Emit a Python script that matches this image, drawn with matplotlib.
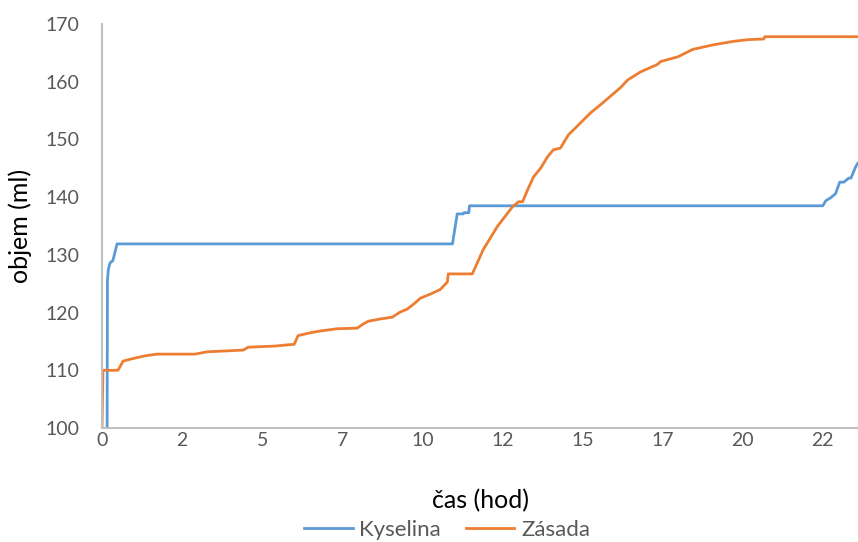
import matplotlib
matplotlib.use("Agg")
import matplotlib.pyplot as plt
from matplotlib.ticker import FuncFormatter, MultipleLocator

plt.rcParams['font.family'] = ['Lato', 'DejaVu Sans']

# Kyselina (acid) - time (h) and volume (ml)
kys_t = [0.16, 0.17, 0.20, 0.25, 0.34, 0.47, 10.94, 11.09, 11.28, 11.30, 11.45, 11.47,
         22.5, 22.6, 22.75, 22.9, 23.03, 23.16, 23.31, 23.38, 23.53, 23.6]
kys_v = [100.0, 125.7, 127.5, 128.6, 129.0, 131.9, 131.9, 137.1, 137.1, 137.3, 137.3, 138.5,
         138.5, 139.4, 139.9, 140.6, 142.6, 142.6, 143.3, 143.3, 145.3, 145.9]

# Zásada (base) - time (h) and volume (ml)
zas_t = [0.0, 0.03, 0.5, 0.66, 0.94, 1.34, 1.72, 2.9, 3.28, 4.41, 4.56, 5.41, 5.78,
         6.0, 6.12, 6.5, 6.81, 7.34, 7.97, 8.12, 8.31, 8.69, 9.06, 9.31, 9.53, 9.78,
         9.94, 10.25, 10.56, 10.78, 10.81, 11.56, 11.9, 12.34, 12.81, 13.0, 13.13,
         13.28, 13.47, 13.69, 13.91, 14.09, 14.31, 14.56, 14.78, 15.25, 15.56, 16.19,
         16.41, 16.81, 17.34, 17.44, 17.97, 18.44, 19.09, 19.72, 20.19, 20.66, 20.69,
         23.6]
zas_v = [100.0, 110.0, 110.0, 111.6, 112.0, 112.5, 112.8, 112.8, 113.2, 113.5, 114.0,
         114.2, 114.4, 114.5, 116.0, 116.5, 116.8, 117.2, 117.3, 117.9, 118.5, 118.9,
         119.2, 120.1, 120.6, 121.7, 122.5, 123.2, 124.0, 125.3, 126.7, 126.7, 130.9,
         134.9, 138.3, 139.2, 139.2, 141.2, 143.5, 145.0, 147.0, 148.2, 148.5, 150.8,
         152.0, 154.6, 156.0, 159.0, 160.3, 161.7, 163.0, 163.5, 164.3, 165.6, 166.4,
         167.0, 167.3, 167.4, 167.8, 167.8]

fig = plt.figure(figsize=(8.58, 5.42), dpi=100)
ax = fig.add_axes([102/858, 1 - 428/542, 1 - 102/858, (428 - 24)/542])

l1, = ax.plot(kys_t, kys_v, color='#5B9BD5', lw=2.0, label='Kyselina', solid_joinstyle='round')
l2, = ax.plot(zas_t, zas_v, color='#ED7D31', lw=2.0, label='Zásada', solid_joinstyle='round')

ax.set_xlim(0, 23.6)
ax.set_ylim(100, 170)
ax.xaxis.set_major_locator(MultipleLocator(2.5))
ax.xaxis.set_major_formatter(FuncFormatter(lambda v, p: f"{int(v)}"))
ax.yaxis.set_major_locator(MultipleLocator(10))

for s in ['top', 'right']:
    ax.spines[s].set_visible(False)
for s in ['left', 'bottom']:
    ax.spines[s].set_color('#BFBFBF')
    ax.spines[s].set_linewidth(1.5)

ax.tick_params(axis='both', length=0, labelsize=14, labelcolor='#595959')
ax.tick_params(axis='y', pad=16)
ax.tick_params(axis='x', pad=3)

ax.set_xlabel('čas (hod)', fontsize=18, color='black')
ax.set_ylabel('objem (ml)', fontsize=18, color='black')
ax.xaxis.set_label_coords(0.5, -0.152)
ax.yaxis.set_label_coords(-0.092, 0.5)

leg = fig.legend(handles=[l1, l2], loc='center', bbox_to_anchor=(447/858, 1 - 530/542),
                 ncol=2, frameon=False, fontsize=16, handlelength=2.2, columnspacing=1.1,
                 handletextpad=0.3)
for t in leg.get_texts():
    t.set_color('#595959')

fig.savefig('out.png', dpi=100)
